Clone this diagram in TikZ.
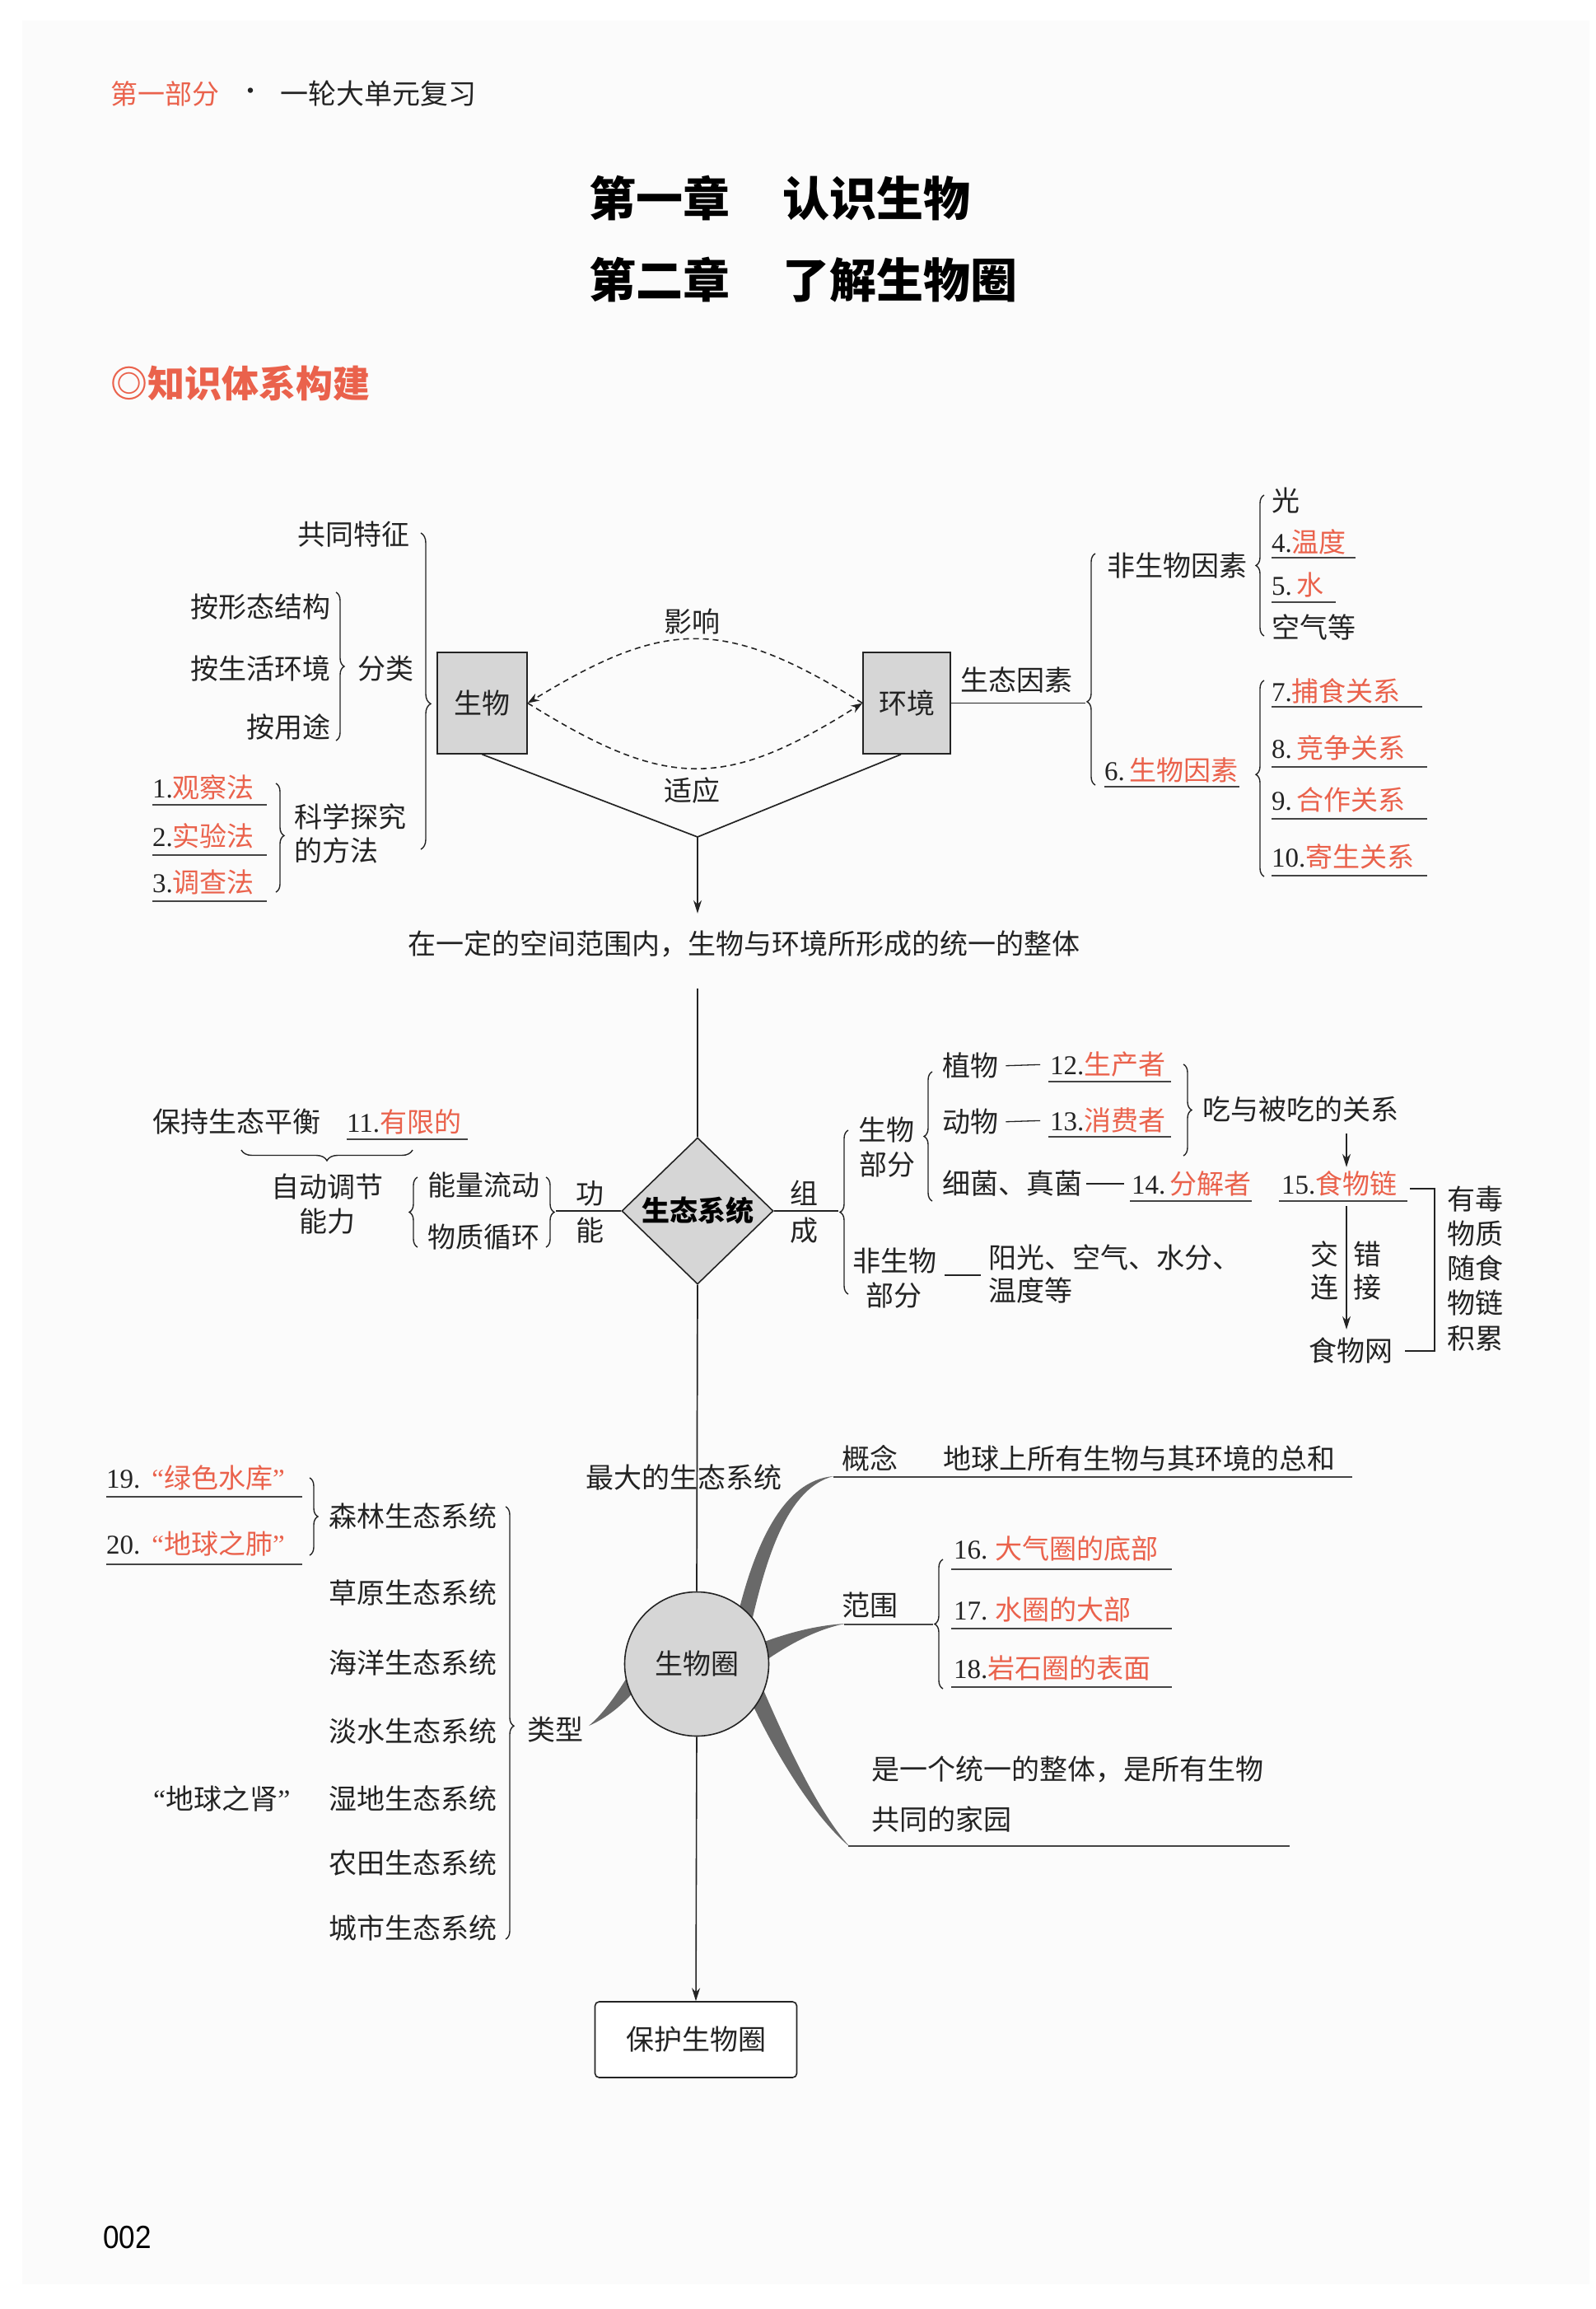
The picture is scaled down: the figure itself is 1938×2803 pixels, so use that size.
\documentclass[tikz,border=0pt]{standalone}
\usepackage{fontspec}
\setmainfont{Noto Sans CJK SC}
\newfontfamily\tnr{Liberation Serif}
\newfontfamily\lsans{Liberation Sans}
\usetikzlibrary{shapes.geometric,decorations.pathreplacing,arrows.meta}
\definecolor{ansred}{RGB}{234,98,76}
\definecolor{ink}{RGB}{35,35,35}
\definecolor{boxgray}{RGB}{214,214,214}
\definecolor{swooshgray}{RGB}{105,105,105}
\newcommand{\nm}[1]{{\tnr #1}}
\newcommand{\rd}[1]{{\color{ansred}#1}}
\newcommand{\oq}{{\tnr “}}
\newcommand{\cq}{{\tnr ”}}
\tikzset{
 txt/.style={inner sep=0pt, font=\fontsize{34}{40}\selectfont, text=ink, text height=27pt, text depth=3pt},
 ans/.style={txt, font=\fontsize{33}{40}\selectfont},
 ln/.style={draw=ink, line width=1.7pt},
 thinln/.style={draw=ink, line width=1.3pt},
 ul/.style={draw=ink!85, line width=1.6pt},
 brc/.style={draw=ink, line width=1.4pt, decorate, decoration={brace, amplitude=10pt}},
 arr/.style={draw=ink, line width=1.6pt, -{Stealth[length=16pt,width=10pt]}},
 dsh/.style={draw=ink, line width=1.6pt, dash pattern=on 7pt off 5pt, -{Stealth[length=14pt,width=10pt]}},
 gbox/.style={draw=ink, line width=1.6pt, fill=boxgray, minimum width=109pt, minimum height=123pt, inner sep=0pt, font=\fontsize{34}{40}\selectfont, text=ink},
}
\begin{document}
\begin{tikzpicture}[x=1pt,y=-1pt]
\useasboundingbox (0,0) rectangle (1938,2803);
\fill[white] (0,0) rectangle (1938,2803);
\fill[black!1.5] (27,25) rectangle (1930,2773);

% header
\node[anchor=west, inner sep=0pt, font=\fontsize{33}{40}\selectfont, text=ansred] (hd1) at (134,114) {第一部分};
\node[inner sep=0pt, font=\fontsize{30}{36}\selectfont, text=ink] (hdd) at (304,114) {·};
\node[anchor=west, inner sep=0pt, font=\fontsize{34}{40}\selectfont, text=ink] (hd2) at (340,114) {一轮大单元复习};
\node[anchor=west, inner sep=0pt, font=\fontsize{57}{64}\selectfont\bfseries, text=black] (ti1) at (715,241) {第一章\hspace{64pt}认识生物};
\node[anchor=west, inner sep=0pt, font=\fontsize{57}{64}\selectfont\bfseries, text=black] (ti2) at (715,340) {第二章\hspace{64pt}了解生物圈};
\node[anchor=west, inner sep=0pt, font=\fontsize{45}{50}\selectfont\bfseries, text=ansred] (sec) at (134,465) {◎知识体系构建};

% ---------- upper part ----------
\node[txt, anchor=east] (gt) at (498,649) {共同特征};
\node[txt, anchor=east] (xt) at (402,737) {按形态结构};
\node[txt, anchor=east] (hjz) at (402,812) {按生活环境};
\node[txt, anchor=east] (yt) at (402,883) {按用途};
\draw[brc] (408,719) -- (408,899);
\node[txt, anchor=west] (fl) at (434,812) {分类};
\node[ans, anchor=west] (a1) at (185,956) {\nm{1.}\rd{观察法}};
\draw[ul] (185,977) -- (324,977);
\node[ans, anchor=west] (a2) at (185,1015) {\nm{2.}\rd{实验法}};
\draw[ul] (185,1038) -- (324,1038);
\node[ans, anchor=west] (a3) at (185,1071) {\nm{3.}\rd{调查法}};
\draw[ul] (185,1094) -- (324,1094);
\draw[brc, decoration={aspect=0.48}] (335,951) -- (335,1083);
\node[txt, anchor=west] (kx1) at (357,992) {科学探究};
\node[txt, anchor=west] (kx2) at (357,1033) {的方法};
\draw[brc, decoration={amplitude=12pt, aspect=0.54}] (511,647) -- (511,1031);

\node[gbox] (sw) at (585.5,853.5) {生物};
\node[gbox, minimum width=106pt] (env) at (1101,853.5) {环境};
\draw[dsh] (env.west) .. controls (880,750) and (810,750) .. (sw.east);
\draw[dsh] (sw.east) .. controls (810,959) and (880,959) .. (env.west);
\node[txt] (yx) at (840,755) {影响};
\node[txt] (sy) at (840,960) {适应};
\coordinate (vtx) at (847,1016);
\draw[ln] (sw.south) -- (vtx) -- ([xshift=-7pt]env.south);
\node[txt] (def) at (903,1146) {在一定的空间范围内，生物与环境所形成的统一的整体};
\draw[arr, shorten >=22pt] (vtx) -- (vtx |- def.north);

\node[txt, anchor=west] (stys) at (1166,826) {生态因素};
\coordinate (b1) at (1318,853.5);
\draw[ln] (env.east) -- (b1);
\draw[brc, decoration={aspect=0.36}] (1330,953) -- (1330,672);
\node[txt, anchor=west] (fsw) at (1344,687) {非生物因素};
\node[ans, anchor=west] (a6) at (1341,935) {\nm{6.}\,\rd{生物因素}};
\draw[ul] (1341,955) -- (1505,955);
\draw[brc] (1535,772) -- (1535,601);
\node[txt, anchor=west] (guang) at (1544,608) {光};
\node[ans, anchor=west] (a4) at (1544,658) {\nm{4.}\rd{温度}};
\draw[ul] (1544,677) -- (1646,677);
\node[ans, anchor=west] (a5) at (1544,710) {\nm{5.}\,\rd{水}};
\draw[ul] (1544,731) -- (1622,731);
\node[txt, anchor=west] (kq) at (1544,762) {空气等};
\draw[brc, decoration={aspect=0.52}] (1535,1064) -- (1535,826);
\node[ans, anchor=west] (a7) at (1544,839) {\nm{7.}\rd{捕食关系}};
\draw[ul] (1544,858) -- (1727,858);
\node[ans, anchor=west] (a8) at (1544,908) {\nm{8.}\,\rd{竞争关系}};
\draw[ul] (1544,931) -- (1733,931);
\node[ans, anchor=west] (a9) at (1544,971) {\nm{9.}\,\rd{合作关系}};
\draw[ul] (1544,994) -- (1733,994);
\node[ans, anchor=west] (a10) at (1544,1040) {\nm{10.}\rd{寄生关系}};
\draw[ul] (1544,1063) -- (1733,1063);

% ---------- ecosystem ----------
\coordinate (vl1) at (847,1200);
\node[diamond, draw=ink, line width=1.6pt, fill=boxgray, minimum width=184pt, minimum height=178pt, inner sep=0pt, font=\fontsize{34}{40}\selectfont\bfseries, text=black] (eco) at (847,1470) {生态系统};
\draw[ln] (vl1) -- (eco.north);

\node[txt, anchor=west] (bcph) at (185,1362) {保持生态平衡};
\node[ans, anchor=west] (a11) at (421,1362) {\nm{11.}\rd{有限的}};
\draw[ul] (421,1383) -- (568,1383);
\draw[brc, decoration={amplitude=13pt}] (501,1396) -- (293,1396);
\node[txt] (zd1) at (397,1441) {自动调节};
\node[txt] (zd2) at (397,1483) {能力};
\draw[brc] (507,1514) -- (507,1429);
\node[txt, anchor=west] (nl) at (519,1439) {能量流动};
\node[txt, anchor=west] (wz) at (519,1502) {物质循环};
\draw[brc] (663,1429) -- (663,1514);
\coordinate (b2) at (675,1470);
\draw[ln] (b2) -- (eco.west);
\node[txt] (gong) at (716,1449) {功};
\node[txt] (neng) at (716,1494) {能};
\coordinate (b3) at (1018,1470);
\draw[ln] (eco.east) -- (b3);
\node[txt] (zu) at (976,1449) {组};
\node[txt] (cheng) at (976,1494) {成};
\draw[brc] (1030,1571) -- (1030,1372);
\node[txt] (swb1) at (1076,1372) {生物};
\node[txt] (swb2) at (1077,1414) {部分};
\draw[brc] (1132,1458) -- (1132,1301);
\node[txt, anchor=west] (zw) at (1144,1294) {植物};
\node[ans, anchor=west] (a12) at (1275,1292) {\nm{12.}\rd{生产者}};
\draw[ul] (1273,1313) -- (1422,1313);
\draw[thinln, shorten <=9pt, shorten >=12pt] (zw.east) -- (a12.west);
\node[txt, anchor=west] (dw) at (1144,1362) {动物};
\node[ans, anchor=west] (a13) at (1275,1360) {\nm{13.}\rd{消费者}};
\draw[ul] (1273,1380) -- (1422,1380);
\draw[thinln, shorten <=9pt, shorten >=12pt] (dw.east) -- (a13.west);
\node[txt, anchor=west] (xj) at (1144,1437) {细菌、真菌};
\node[ans, anchor=west] (a14) at (1374,1437) {\nm{14.}\,\rd{分解者}};
\draw[ul] (1372,1458) -- (1520,1458);
\draw[thinln, shorten <=5pt, shorten >=9pt] (xj.east) -- (a14.west);
\draw[brc] (1437,1292) -- (1437,1403);
\node[txt, anchor=west] (cb) at (1460,1347) {吃与被吃的关系};
\node[ans, anchor=west] (a15) at (1556,1437) {\nm{15.}\rd{食物链}};
\draw[ul] (1553,1458) -- (1709,1458);
\coordinate (c15) at (1635,1376);
\draw[arr, shorten >=5pt] (c15) -- (c15 |- a15.north);
\node[txt, anchor=west] (sww) at (1589,1640) {食物网};
\coordinate (c16) at (1635,1464);
\draw[arr, shorten >=11pt] (c16) -- (c16 |- sww.north);
\node[txt] (jiao) at (1608,1523) {交};
\node[txt] (lian) at (1608,1563) {连};
\node[txt] (cuo) at (1660,1523) {错};
\node[txt] (jie) at (1660,1563) {接};
\coordinate (k1) at (1712,1443);
\coordinate (k2) at (1706,1640);
\draw[thinln] (k1) -- (1742,1443) -- (1742,1640) -- (k2);
\node[txt] (yd1) at (1791,1456) {有毒};
\node[txt] (yd2) at (1791,1498) {物质};
\node[txt] (yd3) at (1791,1540) {随食};
\node[txt] (yd4) at (1791,1582) {物链};
\node[txt] (yd5) at (1791,1625) {积累};
\node[txt] (fsb1) at (1086,1531) {非生物};
\node[txt] (fsb2) at (1085,1573) {部分};
\coordinate (d1) at (1147,1548);
\coordinate (d2) at (1191,1548);
\draw[thinln] (d1) -- (d2);
\node[txt, anchor=west] (yg1) at (1200,1527) {阳光、空气、水分、};
\node[txt, anchor=west] (yg2) at (1200,1567) {温度等};

% ---------- biosphere ----------
\fill[swooshgray] (770,2022) .. controls (752,2052) and (736,2077) .. (715,2095) .. controls (740,2084) and (760,2066) .. (776,2046) -- cycle;
\fill[swooshgray] (896,1960) .. controls (916,1878) and (950,1797) .. (1012,1792) .. controls (958,1806) and (932,1884) .. (912,1972) -- cycle;
\fill[swooshgray] (915,1998) .. controls (955,1982) and (992,1973) .. (1026,1971) .. controls (992,1978) and (958,1995) .. (918,2024) -- cycle;
\fill[swooshgray] (905,2050) .. controls (935,2118) and (985,2203) .. (1032,2242) .. controls (992,2198) and (953,2112) .. (922,2040) -- cycle;
\node[circle, draw=ink, line width=1.6pt, fill=boxgray, minimum size=175pt, inner sep=0pt, font=\fontsize{34}{40}\selectfont, text=ink] (swq) at (846,2020) {生物圈};
\draw[ln] (eco.south) -- (swq.north);
\node[txt, anchor=west] (zdd) at (711,1794) {最大的生态系统};
\node[draw=ink, line width=1.6pt, rounded corners=5pt, minimum width=245pt, minimum height=92pt, fill=white, inner sep=0pt, font=\fontsize{34}{40}\selectfont, text=ink] (bh) at (845,2476) {保护生物圈};
\draw[arr] (swq.south) -- (bh.north);

\node[ans, anchor=west] (a19) at (129,1794) {\nm{19.}\hspace{14pt}\rd{\oq 绿色水库\cq}};
\draw[ul] (129,1817) -- (367,1817);
\node[ans, anchor=west] (a20) at (129,1874) {\nm{20.}\hspace{14pt}\rd{\oq 地球之肺\cq}};
\draw[ul] (129,1899) -- (367,1899);
\draw[brc] (376,1794) -- (376,1888);
\node[txt, anchor=west] (e1) at (399,1841) {森林生态系统};
\node[txt, anchor=west] (e2) at (399,1934) {草原生态系统};
\node[txt, anchor=west] (e3) at (399,2019) {海洋生态系统};
\node[txt, anchor=west] (e4) at (399,2102) {淡水生态系统};
\node[txt, anchor=west] (e5) at (399,2184) {湿地生态系统};
\node[txt, anchor=west] (e6) at (399,2262) {农田生态系统};
\node[txt, anchor=west] (e7) at (399,2341) {城市生态系统};
\node[txt, anchor=west] (dqs) at (186,2184) {\oq 地球之肾\cq};
\draw[brc, decoration={aspect=0.507}] (614,1829) -- (614,2354);
\node[txt, anchor=west] (lx) at (640,2100) {类型};

\node[txt, anchor=west] (gn) at (1022,1771) {概念};
\node[txt, anchor=west] (gnt) at (1145,1771) {地球上所有生物与其环境的总和};
\coordinate (s1) at (1012,1793);
\coordinate (s1e) at (1642,1793);
\draw[ul] (s1) -- (s1e);
\node[txt, anchor=west] (fw) at (1022,1949) {范围};
\coordinate (s2) at (1025,1972);
\coordinate (s2e) at (1133,1972);
\draw[ul] (s2) -- (s2e);
\draw[brc] (1145,2050) -- (1145,1893);
\node[ans, anchor=west] (a16) at (1158,1880) {\nm{16.}\;\rd{大气圈的底部}};
\draw[ul] (1155,1905) -- (1423,1905);
\node[ans, anchor=west] (a17) at (1158,1954) {\nm{17.}\;\rd{水圈的大部}};
\draw[ul] (1155,1977) -- (1423,1977);
\node[ans, anchor=west] (a18) at (1158,2025) {\nm{18.}\rd{岩石圈的表面}};
\draw[ul] (1155,2048) -- (1423,2048);
\node[txt, anchor=west] (jy1) at (1058,2148) {是一个统一的整体，是所有生物};
\node[txt, anchor=west] (jy2) at (1058,2209) {共同的家园};
\coordinate (s3) at (1030,2241);
\coordinate (s3e) at (1566,2241);
\draw[ul] (s3) -- (s3e);

\node[anchor=west, inner sep=0pt, font=\lsans\fontsize{39}{44}\selectfont, text=black] (pg) at (125,2716) {\scalebox{0.9}[1]{002}};
\end{tikzpicture}
\end{document}
